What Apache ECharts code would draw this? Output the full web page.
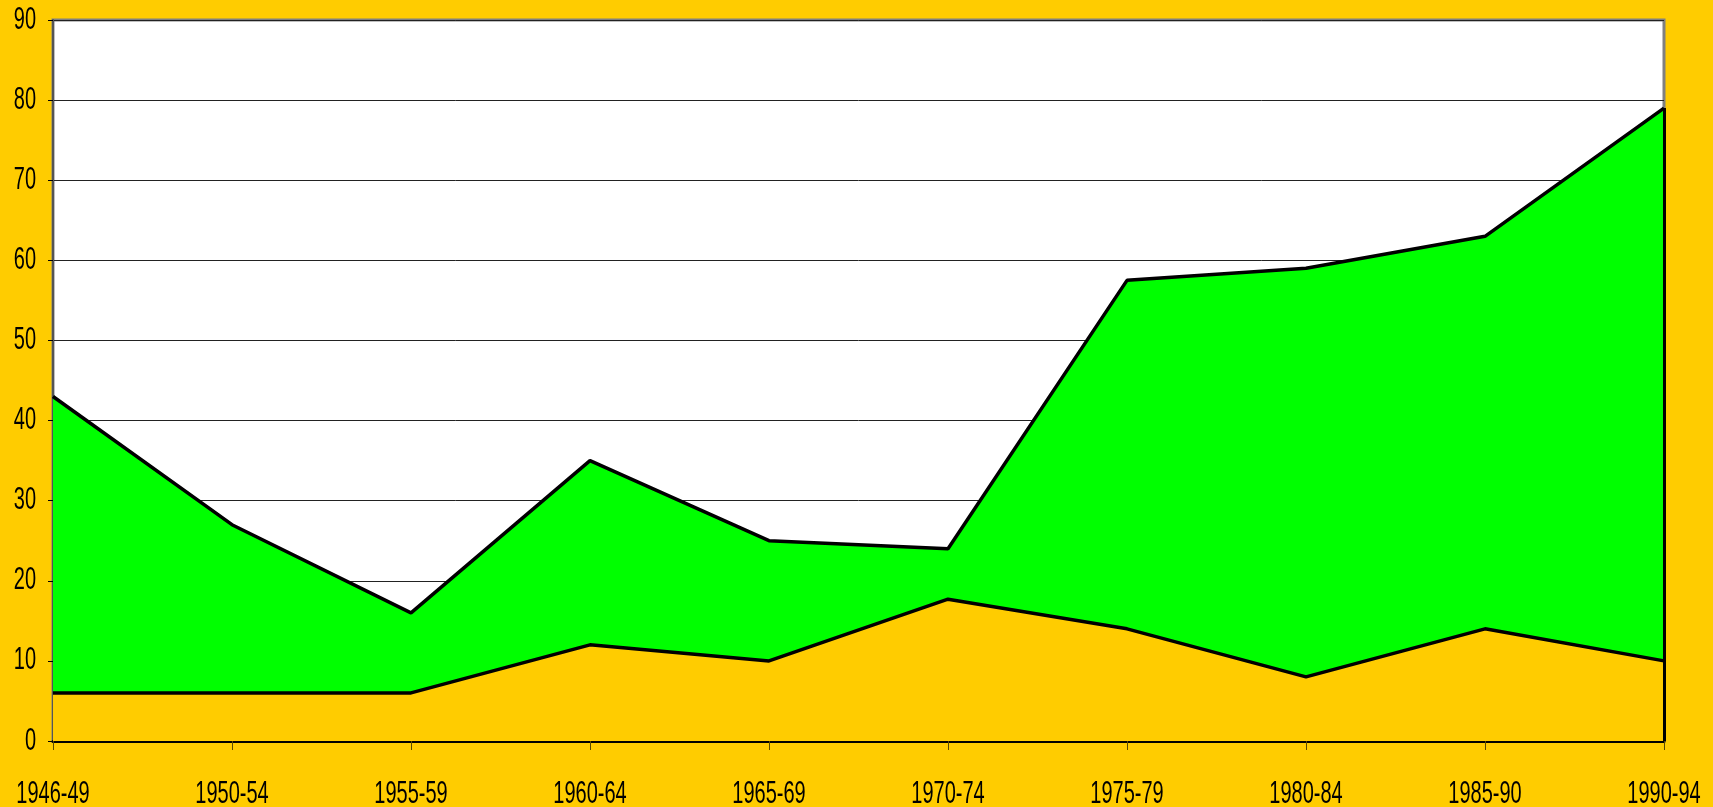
<!DOCTYPE html>
<html>
<head>
<meta charset="utf-8">
<style>
    html, body { margin: 0; padding: 0; background: #ffcc00; }
    #main { width: 1713px; height: 807px; }
</style>
<script src="https://cdn.jsdelivr.net/npm/echarts@6/dist/echarts.min.js"></script>
</head>
<body>
<div id="main"></div>
<script>
    var periods = ['1946-49', '1950-54', '1955-59', '1960-64', '1965-69', '1970-74', '1975-79', '1980-84', '1985-90', '1990-94'];
    var upper_values = [43, 27, 16, 35, 25, 24, 57.5, 59, 63, 79];
    var lower_values = [6, 6, 6, 12, 10, 17.7, 14, 8, 14, 10];
    var y_ticks = [0, 10, 20, 30, 40, 50, 60, 70, 80, 90];

    // the original labels are a narrow font stretched upwards, so they are drawn as scaled text
    var label_font = '20px "Liberation Sans", Arial, sans-serif';
    var label_stretch = 1.55;
    var last_period = periods[periods.length - 1];
    var top_last = upper_values[upper_values.length - 1];

    var my_chart = echarts.init(document.getElementById('main'));
    var option = {
        backgroundColor: '#ffcc00',
        animation: false,
        grid: {
            left: 53,
            right: 49,
            top: 20,
            bottom: 66,
            show: true,
            backgroundColor: '#ffffff',
            borderColor: '#808080',
            borderWidth: 3
        },
        xAxis: {
            type: 'category',
            boundaryGap: false,
            data: periods,
            axisLine: { lineStyle: { color: '#000000', width: 3 } },
            axisTick: { show: true, length: 9, lineStyle: { color: '#5a4a00', width: 1 } },
            axisLabel: { show: false },
            splitLine: { show: false }
        },
        yAxis: {
            type: 'value',
            min: y_ticks[0],
            max: y_ticks[y_ticks.length - 1],
            interval: 10,
            axisLine: { show: true, lineStyle: { color: '#555555', width: 2 } },
            axisTick: { show: true, length: 5, lineStyle: { color: '#000000', width: 1 } },
            axisLabel: { show: false },
            splitLine: { show: true, lineStyle: { color: '#222222', width: 1 } }
        },
        series: [{
            name: 'upper',
            type: 'line',
            data: upper_values,
            symbol: 'none',
            lineStyle: { color: '#000000', width: 3.5 },
            areaStyle: { color: '#00ff00', opacity: 1 },
            z: 2,
            markLine: {
                silent: true,
                symbol: 'none',
                label: { show: false },
                lineStyle: { color: '#000000', width: 3, type: 'solid' },
                data: [[{ coord: [last_period, 0] }, { coord: [last_period, top_last] }]]
            }
        }, {
            name: 'lower',
            type: 'line',
            data: lower_values,
            symbol: 'none',
            lineStyle: { color: '#000000', width: 3.5 },
            areaStyle: { color: '#ffcc00', opacity: 1 },
            z: 3
        }]
    };

    my_chart.setOption(option);

    // tick labels, placed with the chart's own scales
    var labels = [];
    var axis_x = my_chart.convertToPixel({ xAxisIndex: 0 }, periods[0]);
    var axis_y = my_chart.convertToPixel({ yAxisIndex: 0 }, 0);
    periods.forEach(function(p) {
        labels.push({
            type: 'text',
            x: my_chart.convertToPixel({ xAxisIndex: 0 }, p),
            y: axis_y + 53,
            scaleY: label_stretch,
            silent: true,
            style: { text: p, font: label_font, fill: '#000000', align: 'center', verticalAlign: 'middle' }
        });
    });
    y_ticks.forEach(function(v) {
        labels.push({
            type: 'text',
            x: axis_x - 17,
            y: my_chart.convertToPixel({ yAxisIndex: 0 }, v),
            scaleY: label_stretch,
            silent: true,
            style: { text: String(v), font: label_font, fill: '#000000', align: 'right', verticalAlign: 'middle' }
        });
    });
    my_chart.setOption({ graphic: labels });
</script>
</body>
</html>
